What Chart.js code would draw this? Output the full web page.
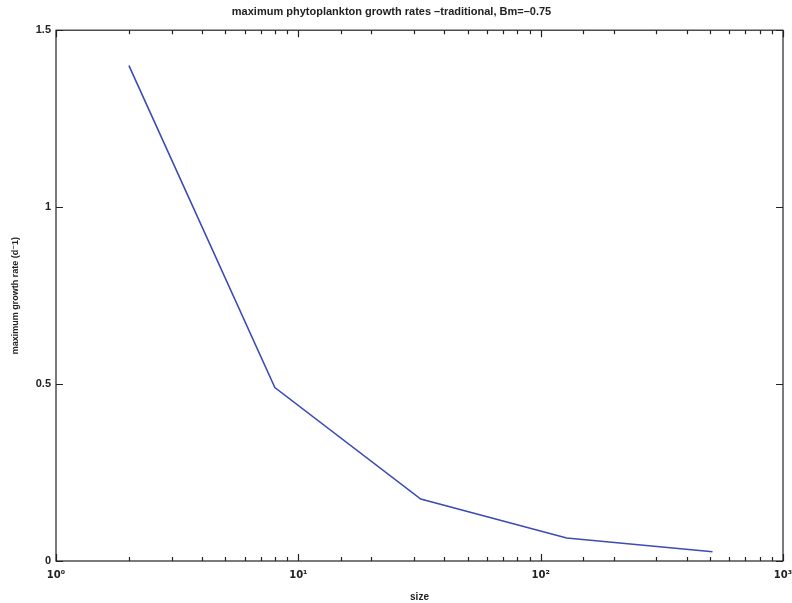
<!DOCTYPE html>
<html>
<head>
<meta charset="utf-8">
<script src="https://cdn.jsdelivr.net/npm/chart.js@4/dist/chart.umd.min.js"></script>
<style>
  html, body { margin: 0; padding: 0; background: #fff; }
  #wrap { width: 792px; height: 603px; }
</style>
</head>
<body>
<div id="wrap"><canvas id="growthChart" width="792" height="603"></canvas></div>
<script>
// values
const sizes = [2, 8, 32, 128, 512];
const growthRates = [1.40, 0.49, 0.175, 0.065, 0.026];
const yTicks = [0, 0.5, 1, 1.5];
const xDecadeLabels = { 1: '10\u2070', 10: '10\u00b9', 100: '10\u00b2', 1000: '10\u00b3' };

const fontFamily = "'Liberation Sans', 'DejaVu Sans', sans-serif";

// matlab style frame with inward ticks on all four sides
const frameTicks = {
  id: 'frameTicks',
  afterDraw(chart) {
    const ctx = chart.ctx;
    const a = chart.chartArea;
    const xs = chart.scales.x;
    const ys = chart.scales.y;
    ctx.save();
    ctx.strokeStyle = '#222';
    ctx.lineWidth = 1.2;
    ctx.strokeRect(a.left, a.top, a.right - a.left, a.bottom - a.top);
    ctx.beginPath();
    xs.ticks.forEach(function(t) {
      const px = Math.round(xs.getPixelForValue(t.value)) + 0.5;
      const len = xDecadeLabels[t.value] ? 7 : 4;
      ctx.moveTo(px, a.bottom); ctx.lineTo(px, a.bottom - len);
      ctx.moveTo(px, a.top); ctx.lineTo(px, a.top + len);
    });
    yTicks.forEach(function(v) {
      const py = Math.round(ys.getPixelForValue(v)) + 0.5;
      ctx.moveTo(a.left, py); ctx.lineTo(a.left + 7, py);
      ctx.moveTo(a.right, py); ctx.lineTo(a.right - 7, py);
    });
    ctx.stroke();
    ctx.restore();
  }
};

new Chart(document.getElementById('growthChart'), {
  type: 'line',
  data: {
    datasets: [{
      data: sizes.map(function(s, i) { return { x: s, y: growthRates[i] }; }),
      borderColor: '#3c4cb4',
      borderWidth: 1.6,
      pointRadius: 0,
      tension: 0,
      fill: false
    }]
  },
  options: {
    responsive: false,
    animation: false,
    layout: { padding: { top: 0, right: 9, bottom: 0, left: 0 } },
    plugins: {
      legend: { display: false },
      tooltip: { enabled: false },
      title: {
        display: true,
        text: 'maximum phytoplankton growth rates \u2013traditional, Bm=\u20130.75',
        color: '#222',
        font: { family: fontFamily, size: 11, weight: 'bold' },
        padding: { top: 5, bottom: 12 }
      }
    },
    scales: {
      x: {
        type: 'logarithmic',
        min: 1,
        max: 1000,
        grid: { display: false, drawTicks: false },
        border: { display: false },
        ticks: {
          autoSkip: false,
          maxRotation: 0,
          padding: 8,
          color: '#222',
          font: { family: "'DejaVu Sans', sans-serif", size: 10, weight: 'bold' },
          callback: function(value) { return xDecadeLabels[value] || ''; }
        },
        title: {
          display: true,
          text: 'size',
          color: '#222',
          font: { family: fontFamily, size: 10, weight: 'bold' },
          padding: { top: 4, bottom: 0 }
        },
        afterFit: function(scale) {
          scale.height = 42;
          scale.paddingLeft = 0;
          scale.paddingRight = 0;
        }
      },
      y: {
        min: 0,
        max: 1.5,
        grid: { display: false, drawTicks: false },
        border: { display: false },
        ticks: {
          stepSize: 0.5,
          padding: 5,
          color: '#222',
          font: { family: fontFamily, size: 11, weight: 'bold' },
          callback: function(value) { return String(value); }
        },
        title: {
          display: true,
          text: 'maximum growth rate (d\u207b1)',
          color: '#222',
          font: { family: fontFamily, size: 9, weight: 'bold' },
          padding: { top: 10, bottom: 0 }
        },
        afterFit: function(scale) { scale.width = 56; }
      }
    }
  },
  plugins: [frameTicks]
});
</script>
</body>
</html>
